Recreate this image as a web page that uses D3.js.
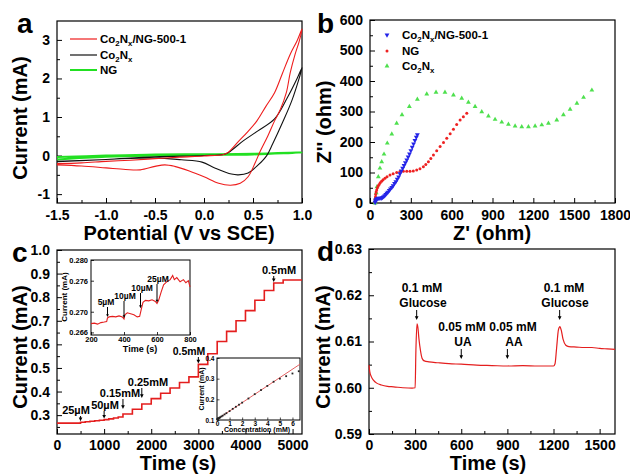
<!DOCTYPE html>
<html>
<head>
<meta charset="utf-8">
<script src="https://d3js.org/d3.v7.min.js"></script>
<style>
  body { margin: 0; background: #fff; }
  svg { display: block; }
</style>
</head>
<body>
<svg width="630" height="475"></svg>
<script>
const FONT = '"Liberation Sans", Arial, sans-serif';
const svg = d3.select("svg");

// ---------- a: cyclic voltammograms (forward scan, then return scan) ----------
const cvRedV = [-1.5,-1.25,-1.0,-0.75,-0.5,-0.25,0.0,0.2,0.25,0.35,0.45,0.54,0.63,0.72,0.8,0.88,0.95,1.0,0.97,0.93,0.88,0.84,0.78,0.72,0.65,0.57,0.52,0.45,0.37,0.27,0.15,0.0,-0.15,-0.3,-0.4,-0.5,-0.65,-0.8,-1.0,-1.25,-1.5];
const cvRedI = [-0.21,-0.19,-0.15,-0.12,-0.08,-0.04,-0.01,0.03,0.09,0.36,0.63,0.9,1.27,1.63,2.13,2.63,2.98,3.28,2.95,2.63,2.15,1.63,1.2,0.9,0.5,0.09,-0.2,-0.55,-0.72,-0.77,-0.72,-0.55,-0.4,-0.28,-0.24,-0.28,-0.37,-0.36,-0.32,-0.27,-0.24];
const cvBlackV = [-1.5,-1.0,-0.5,0.0,0.2,0.25,0.4,0.55,0.72,0.85,0.95,1.0,0.9,0.8,0.7,0.64,0.55,0.45,0.35,0.28,0.11,-0.02,-0.23,-0.5,-1.0,-1.5];
const cvBlackI = [-0.16,-0.1,-0.03,0.0,0.03,0.08,0.38,0.64,0.95,1.5,2.0,2.28,1.45,0.85,0.3,0.0,-0.25,-0.45,-0.5,-0.48,-0.32,-0.17,-0.11,-0.06,-0.1,-0.15];
const cvGreenV = [-1.5,-1.0,-0.5,0.0,0.5,1.0,0.5,0.0,-0.5,-1.0,-1.5];
const cvGreenI = [-0.04,0.0,0.03,0.035,0.045,0.08,0.03,0.015,0.0,-0.03,-0.1];
const cvNames = ["Co2Nx/NG-500-1", "Co2Nx", "NG"];

// ---------- b: Nyquist plots ----------
const nyBlueRe = [38,40,43,48,55,63,72,82,92,100,108,116,124,132,141,150,160,170,180,190,200,210,220,230,240,250,260,270,280,290,300,310,320,330,340,348];
const nyBlueIm = [2,6,10,13,15,16,16,16,18,21,24,28,32,36,41,46,51,57,64,70,78,86,96,105,114,123,132,141,151,161,172,183,194,205,216,224];
const nyRedRe = [37,38,40,42,45,49,54,60,67,75,85,96,110,125,147,170,196,220,245,270,294,318,343,367,392,410,429,447,466,490,515,540,564,589,613,637,662,686,711];
const nyRedIm = [4,12,20,28,36,43,50,56,61,66,71,76,81,86,92,96,100,103,104,104,104,105,108,112,119,126,135,146,157,171,185,198,212,227,242,257,272,283,294];
const nyGreenRe = [37,42,46,51,61,73,86,103,127,160,196,235,289,348,417,485,551,613,674,723,772,821,870,919,968,1017,1066,1115,1164,1213,1262,1311,1372,1421,1470,1520,1569,1630];
const nyGreenIm = [0,16,33,53,86,114,135,160,196,226,261,289,316,340,357,363,363,354,343,330,316,299,285,274,265,258,252,250,250,252,256,261,272,289,307,327,346,370];

// ---------- c: amperometric response (current level after each addition) ----------
const stepTime = [0,500,600,700,800,900,1000,1100,1200,1300,1400,1600,1800,2000,2200,2400,2600,2800,3000,3200,3400,3600,3800,4000,4200,4400,4600,4800,5200];
const stepCurrent = [0.266,0.270,0.272,0.274,0.276,0.278,0.281,0.284,0.288,0.292,0.305,0.325,0.347,0.370,0.393,0.415,0.438,0.462,0.515,0.560,0.612,0.655,0.700,0.743,0.787,0.828,0.860,0.873,0.873];
const stepLabels = ["25µM", "50µM", "0.15mM", "0.25mM", "0.5mM", "0.5mM"];
const stepLabelTime = [500, 1000, 1400, 1800, 3000, 4600];
// inset: low concentration region
const zoomTime = [200,220,240,260,280,295,300,310,330,350,370,390,400,405,420,440,460,480,495,505,515,530,550,570,590,600,610,625,640,660,680,695,705,720,740,760,775,790,800];
const zoomCurrent = [0.2677,0.2678,0.2676,0.2679,0.2680,0.2681,0.2688,0.2690,0.2691,0.2690,0.2692,0.2690,0.2686,0.2694,0.2698,0.2696,0.2694,0.2690,0.2691,0.2705,0.2718,0.2722,0.2721,0.2723,0.2720,0.2716,0.2722,0.2738,0.2752,0.2758,0.2762,0.2770,0.2762,0.2766,0.2758,0.2762,0.2756,0.2760,0.2748];
const zoomLabels = ["5µM", "10µM", "10µM", "25µM"];
const zoomLabelTime = [300, 400, 500, 600];
// inset: calibration
const calConc = [0.025,0.05,0.075,0.1,0.15,0.2,0.25,0.35,0.45,0.6,0.75,1.0,1.25,1.5,1.75,2.0,2.5,3.0,3.5,4.0,4.5,5.0,5.5,6.0,6.5];
const calCurrent = [0.104,0.105,0.106,0.107,0.109,0.111,0.113,0.117,0.121,0.127,0.133,0.143,0.154,0.164,0.174,0.184,0.204,0.225,0.245,0.265,0.285,0.300,0.312,0.325,0.336];
const calFitConc = [0, 6.6];
const calFitCurrent = [0.103, 0.370];

// ---------- d: interference test ----------
const dTime = [0,5,15,30,50,80,120,160,220,280,300,305,312,318,325,335,345,360,390,450,520,600,700,800,900,1000,1100,1200,1210,1220,1232,1242,1250,1262,1280,1300,1350,1400,1450,1500,1550,1600];
const dCurrent = [0.6049,0.6035,0.6024,0.6016,0.6010,0.6006,0.6003,0.6002,0.6000,0.5999,0.6000,0.6080,0.6138,0.6130,0.6105,0.6080,0.6064,0.6058,0.6056,0.6054,0.6052,0.6051,0.6049,0.6048,0.6047,0.6048,0.6047,0.6047,0.6052,0.6085,0.6125,0.6132,0.6125,0.6105,0.6092,0.6089,0.6088,0.6087,0.6087,0.6085,0.6084,0.6083];
const dLabelTop = ["0.1 mM", "0.05 mM", "0.05 mM", "0.1 mM"];
const dLabelBottom = ["Glucose", "UA", "AA", "Glucose"];
const dLabelTime = [310, 600, 900, 1240];

// ---------- helpers ----------
function frame(x, y, o) {
  const g = svg.append("g");
  const [x0, x1] = x.range(), [y0, y1] = y.range();
  const tl = o.tick || 5, fs = o.fs || 14;
  if (o.xMinor) g.append("g").attr("transform", `translate(0,${y0})`)
    .call(d3.axisBottom(x).tickValues(o.xMinor).tickSize(-tl * 0.6).tickFormat(""));
  if (o.yMinor) g.append("g").attr("transform", `translate(${x0},0)`)
    .call(d3.axisLeft(y).tickValues(o.yMinor).tickSize(-tl * 0.6).tickFormat(""));
  g.append("g").attr("transform", `translate(0,${y0})`)
    .call(d3.axisBottom(x).tickValues(o.xTicks).tickSize(-tl).tickPadding(o.xPad || 7).tickFormat(o.xFmt));
  g.append("g").attr("transform", `translate(${x0},0)`)
    .call(d3.axisLeft(y).tickValues(o.yTicks).tickSize(-tl).tickPadding(o.yPad || 7).tickFormat(o.yFmt));
  g.selectAll(".domain").remove();
  g.selectAll(".tick line").attr("stroke", "#000").attr("stroke-width", o.tw || 1);
  g.selectAll("g").attr("font-size", fs).attr("font-family", FONT).attr("font-weight", "bold");
  g.selectAll(".tick text").attr("fill", "#000");
  g.append("rect").attr("x", x0).attr("y", y1).attr("width", x1 - x0).attr("height", y0 - y1)
    .attr("fill", "none").attr("stroke", "#000").attr("stroke-width", o.sw || 1.2);
  return g;
}

function label(txt, x, y, fs, anchor, rot) {
  const t = svg.append("text").attr("font-family", FONT).attr("font-weight", "bold")
    .attr("font-size", fs).attr("text-anchor", anchor || "middle").attr("fill", "#000")
    .attr("transform", `translate(${x},${y})` + (rot ? ` rotate(${rot})` : ""));
  t.text(txt);
  return t;
}

// text with chemical subscripts ("Co2Nx" -> Co₂Nₓ)
function chemLabel(txt, x, y, fs) {
  const t = svg.append("text").attr("x", x).attr("y", y).attr("font-family", FONT)
    .attr("font-weight", "bold").attr("font-size", fs).attr("fill", "#000");
  const parts = txt.split(/(?<=Co)(2)|(?<=Co2N)(x)/).filter(p => p !== undefined && p !== "");
  let sub = false;
  parts.forEach((p, i) => {
    const isSub = (p === "2" && parts[i - 1] === "Co") || (p === "x" && parts[i - 1] === "N");
    const s = t.append("tspan").text(p);
    if (isSub) { s.attr("font-size", fs * 0.68).attr("dy", fs * 0.22); sub = true; }
    else if (sub) { s.attr("dy", -fs * 0.22); sub = false; }
  });
  return t;
}

function arrow(x, yTop, yTip, head) {
  const h = head || 3;
  svg.append("line").attr("x1", x).attr("x2", x).attr("y1", yTop).attr("y2", yTip - h)
    .attr("stroke", "#000").attr("stroke-width", 1);
  svg.append("path").attr("d", `M${x - h * 0.7},${yTip - h * 1.4}L${x + h * 0.7},${yTip - h * 1.4}L${x},${yTip}Z`)
    .attr("fill", "#000");
}

const zip = (a, b) => a.map((v, i) => [v, b[i]]);

// ================= panel a =================
{
  const x = d3.scaleLinear().domain([-1.5, 1.0]).range([57, 302]);
  const y = d3.scaleLinear().domain([-1.23, 3.49]).range([203, 21]);
  frame(x, y, {
    xTicks: d3.range(-1.5, 1.01, 0.5), xMinor: d3.range(-1.25, 1.0, 0.5),
    yTicks: [-1, 0, 1, 2, 3], yMinor: [-0.5, 0.5, 1.5, 2.5],
    xFmt: d => d.toFixed(1), yFmt: d => String(d)
  });
  const line = d3.line().x(d => x(d[0])).y(d => y(d[1])).curve(d3.curveCatmullRom.alpha(0.5));
  const curves = [[cvGreenV, cvGreenI, "#22e022", 2], [cvBlackV, cvBlackI, "#111", 1.1], [cvRedV, cvRedI, "#ee1c1c", 1.1]];
  curves.forEach(([v, i, c, w]) => {
    svg.append("path").attr("d", line(zip(v, i))).attr("fill", "none").attr("stroke", c).attr("stroke-width", w);
  });
  const legColors = ["#ee1c1c", "#111", "#22e022"];
  const legY = [39, 55, 70];
  cvNames.forEach((n, k) => {
    svg.append("line").attr("x1", 70).attr("x2", 97).attr("y1", legY[k]).attr("y2", legY[k])
      .attr("stroke", legColors[k]).attr("stroke-width", k === 2 ? 2 : 1.2);
    chemLabel(n, 100, legY[k] + 4, 11.5);
  });
  label("a", 17, 33, 28, "start");
  label("Current (mA)", 27, 118, 20, "middle", -90);
  label("Potential (V vs SCE)", 179, 240, 20);
}

// ================= panel b =================
{
  const x = d3.scaleLinear().domain([0, 1800]).range([370, 615]);
  const y = d3.scaleLinear().domain([0, 600]).range([203, 20]);
  frame(x, y, {
    xTicks: d3.range(0, 1801, 300), xMinor: d3.range(150, 1800, 300),
    yTicks: d3.range(0, 601, 100), yMinor: d3.range(50, 600, 100),
    xFmt: d3.format("d"), yFmt: d3.format("d")
  });
  const tri = d3.symbol().type(d3.symbolTriangle).size(10);
  const series = [
    [nyGreenRe, nyGreenIm, "#4ee04e", "up"],
    [nyRedRe, nyRedIm, "#ee2222", "circle"],
    [nyBlueRe, nyBlueIm, "#2424e8", "down"]
  ];
  function mark(g, kind, c) {
    if (kind === "circle") g.append("circle").attr("r", 1.5).attr("fill", c);
    else g.append("path").attr("d", tri()).attr("fill", c).attr("transform", kind === "down" ? "rotate(180)" : null);
  }
  series.forEach(([re, im, c, kind]) => {
    svg.append("g").selectAll("g").data(zip(re, im)).join("g")
      .attr("transform", d => `translate(${x(d[0])},${y(d[1])})`)
      .each(function () { mark(d3.select(this), kind, c); });
  });
  const legNames = ["Co2Nx/NG-500-1", "NG", "Co2Nx"];
  const legKinds = [["#2424e8", "down"], ["#ee2222", "circle"], ["#4ee04e", "up"]];
  const legY = [35, 51, 66];
  legNames.forEach((n, k) => {
    mark(svg.append("g").attr("transform", `translate(387,${legY[k]})`), legKinds[k][1], legKinds[k][0]);
    chemLabel(n, 402, legY[k] + 4, 11.5);
  });
  label("b", 317, 33, 28, "start");
  label("Z'' (ohm)", 331, 122, 20, "middle", -90);
  label("Z' (ohm)", 492, 240, 20);
}

// ================= panel c =================
{
  const x = d3.scaleLinear().domain([0, 5200]).range([57, 302]);
  const y = d3.scaleLinear().domain([0.22, 1.0]).range([434, 250]);
  frame(x, y, {
    xTicks: d3.range(0, 5001, 1000), xMinor: d3.range(500, 5200, 1000),
    yTicks: d3.range(3, 11).map(d => d / 10), yMinor: d3.range(5, 20, 2).map(d => d / 20),
    xFmt: d3.format("d"), yFmt: d => d.toFixed(1), xPad: 6
  });
  const line = d3.line().x(d => x(d[0])).y(d => y(d[1])).curve(d3.curveStepAfter);
  svg.append("path").attr("d", line(zip(stepTime, stepCurrent))).attr("fill", "none")
    .attr("stroke", "#e41e1e").attr("stroke-width", 1.6);

  // annotation text layout (centre x, baseline y, size)
  const txtPos = [[76, 414, 11], [105, 409, 11], [120, 397, 11], [148, 386, 11], [189, 355, 10.5], [279, 274, 11]];
  stepLabels.forEach((s, k) => {
    label(s, txtPos[k][0], txtPos[k][1], txtPos[k][2]);
    const lvl = d3.bisectRight(stepTime, stepLabelTime[k]) - 1;
    const yTip = Math.min(y(stepCurrent[lvl]) - 1, txtPos[k][1] + 12);
    arrow(x(stepLabelTime[k]), txtPos[k][1] + 2, yTip, 2.6);
  });

  // inset 1
  const xi = d3.scaleLinear().domain([200, 800]).range([91, 190]);
  const yi = d3.scaleLinear().domain([0.2655, 0.280]).range([335, 260]);
  svg.append("rect").attr("x", 91).attr("y", 260).attr("width", 99).attr("height", 75).attr("fill", "#fff");
  frame(xi, yi, {
    xTicks: [200, 400, 600, 800], yTicks: [0.266, 0.270, 0.276, 0.280],
    xFmt: d3.format("d"), yFmt: d3.format(".3f"), fs: 7.5, tick: 3, xPad: 2, yPad: 3, sw: 1, tw: 0.8
  });
  svg.append("path").attr("d", d3.line().x(d => xi(d[0])).y(d => yi(d[1]))(zip(zoomTime, zoomCurrent)))
    .attr("fill", "none").attr("stroke", "#e41e1e").attr("stroke-width", 1.1);
  const zPos = [[106, 305], [125, 299], [142, 291], [158, 282]];
  zoomLabels.forEach((s, k) => {
    label(s, zPos[k][0], zPos[k][1], 8.5);
    const yTip = yi(zoomCurrent[d3.bisectLeft(zoomTime, zoomLabelTime[k])]) - 1;
    arrow(xi(zoomLabelTime[k]), zPos[k][1] + 2, yTip, 2);
  });
  label("Time (s)", 140, 352, 9);
  label("Current (mA)", 67, 297, 8, "middle", -90);

  // inset 2
  const xc = d3.scaleLinear().domain([0, 6.6]).range([217, 300]);
  const yc = d3.scaleLinear().domain([0.1, 0.4]).range([420, 358]);
  svg.append("rect").attr("x", 217).attr("y", 358).attr("width", 83).attr("height", 62).attr("fill", "#fff");
  frame(xc, yc, {
    xTicks: d3.range(0, 7), yTicks: [0.1, 0.2, 0.3, 0.4],
    xFmt: d3.format("d"), yFmt: d3.format(".1f"), fs: 6.5, tick: 2.5, xPad: 1.5, yPad: 2.5, sw: 1, tw: 0.7
  });
  svg.append("path").attr("d", d3.line().x(d => xc(d[0])).y(d => yc(d[1]))(zip(calFitConc, calFitCurrent)))
    .attr("stroke", "#e05050").attr("stroke-width", 0.9);
  svg.append("g").selectAll("rect").data(zip(calConc, calCurrent)).join("rect")
    .attr("x", d => xc(d[0]) - 0.9).attr("y", d => yc(d[1]) - 0.9).attr("width", 1.8).attr("height", 1.8)
    .attr("fill", "#222");
  label("Concentration (mM)", 257, 432, 7);
  label("Current (mA)", 204, 389, 7, "middle", -90);

  label("c", 12, 262, 28, "start");
  label("Current (mA)", 27, 347, 20, "middle", -90);
  label("Time (s)", 178, 470, 20);
}

// ================= panel d =================
{
  const x = d3.scaleLinear().domain([0, 1600]).range([369, 615]);
  const y = d3.scaleLinear().domain([0.59, 0.63]).range([434, 249]);
  frame(x, y, {
    xTicks: d3.range(0, 1501, 300), xMinor: d3.range(150, 1600, 300),
    yTicks: [0.59, 0.60, 0.61, 0.62, 0.63], yMinor: [0.595, 0.605, 0.615, 0.625],
    xFmt: d3.format("d"), yFmt: d => d.toFixed(2), xPad: 6
  });
  svg.append("path").attr("d", d3.line().x(d => x(d[0])).y(d => y(d[1])).curve(d3.curveMonotoneX)(zip(dTime, dCurrent)))
    .attr("fill", "none").attr("stroke", "#e41e1e").attr("stroke-width", 1.2);
  const topPos = [[422, 292], [462, 331], [513, 331], [564, 292]];
  dLabelTop.forEach((s, k) => {
    const [cx, by] = topPos[k];
    label(s, cx, by, 12);
    label(dLabelBottom[k], cx + 1, by + 15, 12);
    arrow(x(dLabelTime[k]), by + 18, by + 28, 2.6);
  });
  label("d", 317, 261, 28, "start");
  label("Current (mA)", 330, 347, 20, "middle", -90);
  label("Time (s)", 488, 470, 20);
}
</script>
</body>
</html>
